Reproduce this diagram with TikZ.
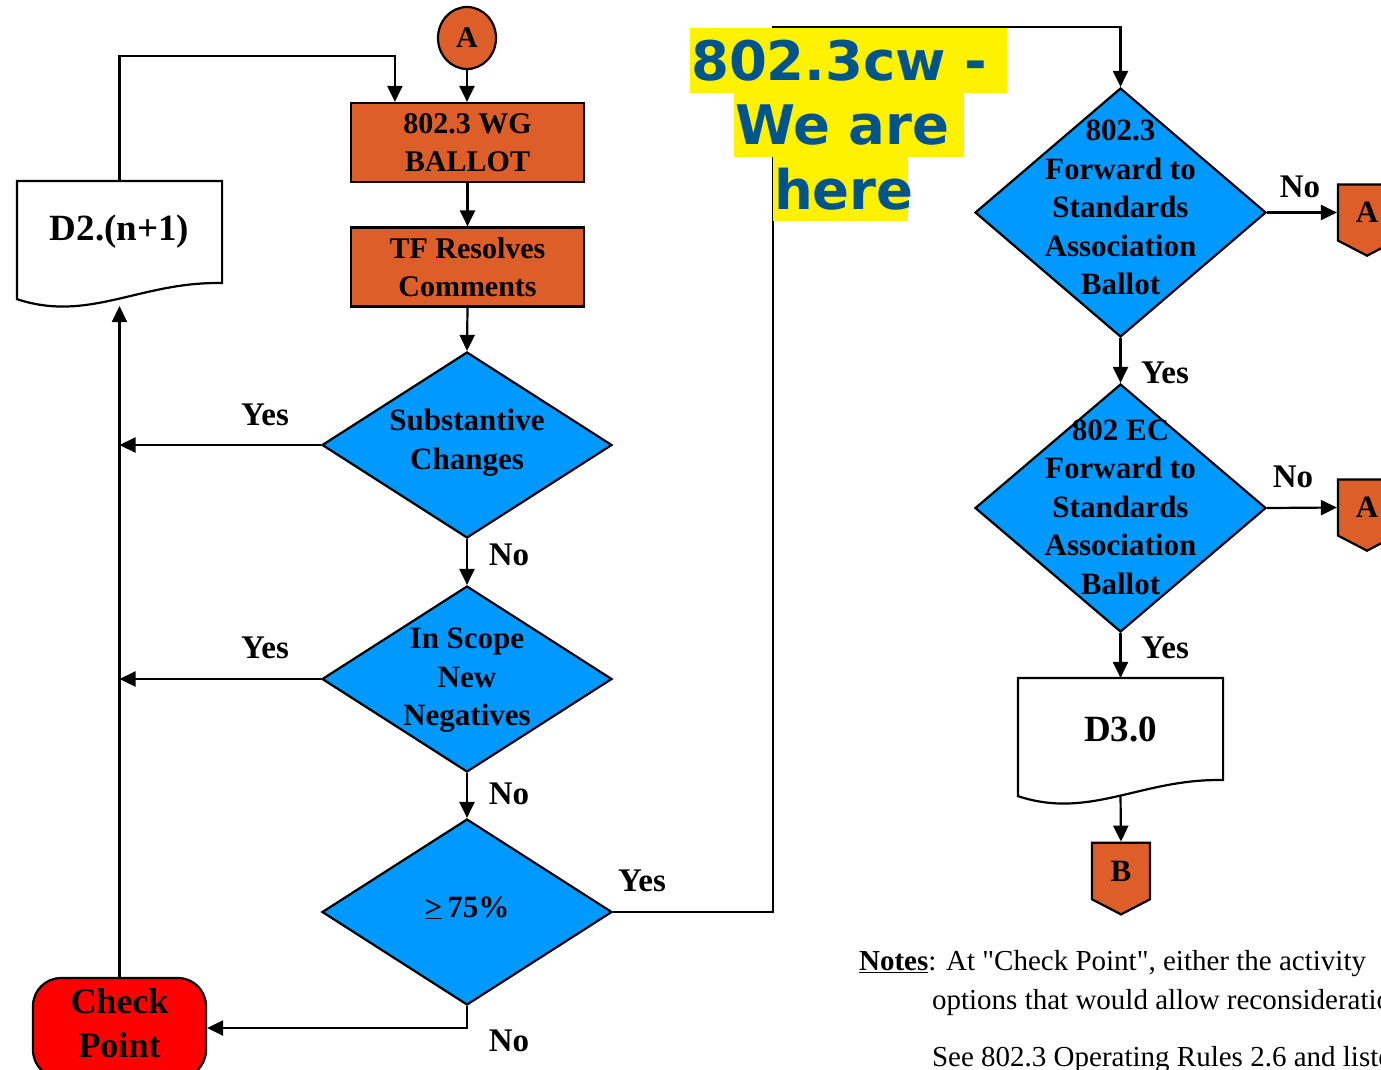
\documentclass[tikz,border=0pt]{standalone}
\usepackage{fontspec}
\setmainfont{Liberation Serif}
\newfontfamily\herefont{DejaVu Sans}
\usetikzlibrary{arrows.meta,shapes.geometric,shapes.symbols,calc}

\definecolor{boxorange}{RGB}{221,94,40}
\definecolor{dblue}{RGB}{0,153,255}
\definecolor{hereblue}{RGB}{0,84,140}

% text that does not change the size of its node
\newcommand{\dtext}[1]{\smash{\makebox[0pt]{\raisebox{-.12em}{\begin{tabular}{@{}c@{}}#1\end{tabular}}}}}

\tikzset{every picture/.style={line width=2.2pt}}
\tikzset{
	arr/.style={-{Triangle[length=16pt,width=15pt]}},
	procbox/.style={draw, fill=boxorange, minimum width=233, minimum height=79, inner sep=0pt, align=center, font=\bfseries\fontsize{30}{38}\selectfont},
	decision/.style={diamond, draw, fill=dblue, minimum width=290, minimum height=186, inner sep=0pt, font=\bfseries\fontsize{31}{38.5}\selectfont},
	docnode/.style={minimum width=203, minimum height=100, inner sep=0pt, font=\bfseries\fontsize{37}{40}\selectfont},
	startcirc/.style={ellipse, draw, fill=boxorange, minimum width=58, minimum height=62, inner sep=0pt, font=\bfseries\fontsize{30}{34}\selectfont},
	offpage/.style={signal, signal to=south, signal from=nowhere, signal pointer angle=125, draw, fill=boxorange, minimum width=58, minimum height=62, inner sep=0pt, font=\bfseries\fontsize{31}{34}\selectfont},
	checkpt/.style={draw, fill=red, rounded corners=28pt, minimum width=173, minimum height=100, inner sep=0pt, font=\bfseries\fontsize{36}{44}\selectfont},
	yesno/.style={font=\bfseries\fontsize{33}{36}\selectfont},
	herebox/.style={anchor=west, fill=yellow, text=hereblue, inner xsep=1pt, inner ysep=0pt, align=left, minimum height=64.5, font=\herefont\bfseries\fontsize{54.5}{64}\selectfont},
	notetext/.style={anchor=base west, inner sep=0pt, font=\fontsize{29}{38}\selectfont}
}

\begin{document}
\begin{tikzpicture}[x=1pt,y=1pt,yscale=-1,xscale=1]
	\useasboundingbox (0,0) rectangle (1381,1069);
	\clip (0,0) rectangle (1381,1069);

	%Shape: Ellipse
	\node[startcirc] (a0) at (467,38) {A};
	%Shape: Rectangle
	\node[procbox] (wg) at (467.5,142.5) {802.3 WG\\BALLOT};
	%Shape: Rectangle
	\node[procbox] (tf) at (467.5,267) {TF Resolves\\Comments};
	%Shape: Diamond
	\node[decision] (sc) at (467,445) {\dtext{Substantive\\Changes}};
	%Shape: Diamond
	\node[decision] (isn) at (467,679) {\raisebox{-6pt}{\dtext{In Scope\\New\\Negatives}}};
	%Shape: Diamond
	\node[decision] (pct) at (467,912) {\dtext{\underline{>}\,75\%}};
	%Shape: Diamond
	\node[decision, minimum width=291, minimum height=249] (fwd) at (1120.5,212.5) {\dtext{802.3\\Forward to\\Standards\\Association\\Ballot}};
	%Shape: Diamond
	\node[decision, minimum width=291, minimum height=248] (ec) at (1120.5,508) {\raisebox{-8pt}{\dtext{802 EC\\Forward to\\Standards\\Association\\Ballot}}};
	%Shape: Terminal
	\node[checkpt] (cp) at (119.5,1028) {\raisebox{-1pt}{\dtext{Check\\Point}}};
	%Shape: Off page
	\node[offpage] (a1) at (1367,212.5) {A};
	\node[offpage] (a2) at (1367,507.5) {A};
	\node[offpage] (b) at (1121,871) {B};

	%Shape: Document
	\node[docnode] (d2) at (119.5,232) {D2.(n+1)};
	\node[docnode] (d3) at (1120.5,729) {D3.0};
	\foreach \n in {d2,d3}
		\draw (\n.north west) -- (\n.north east) -- (\n.south east) .. controls +(-81,-2) and +(72,24) .. ([yshift=16pt]\n.south west) -- cycle ;
	\coordinate (d2w) at (119.5,306);
	\coordinate (d3w) at (1120.5,795);

	%Straight Lines
	\draw[arr] (a0.south) -- (a0.south |- wg.north);
	\draw[arr] (wg.south) -- (tf.north);
	\draw[arr] (tf.south) -- (sc.north);
	\draw[arr] (sc.south) -- (isn.north);
	\draw[arr] (isn.south) -- (pct.north);
	\draw[arr] (sc.west) -- (sc.west -| cp.north);
	\draw[arr] (isn.west) -- (isn.west -| cp.north);
	\draw[arr] (pct.south) |- (cp.east);
	\draw[arr] (cp.north) -- (d2w);
	\draw[arr] (d2.north) -- ++(0,-125) -| ($(wg.north west)+(45,0)$);
	\draw[arr] (pct.east) -- ++(160,0) -- ++(0,-885) -| (fwd.north);
	\draw[arr] (fwd.south) -- (ec.north);
	\draw[arr] (fwd.east) -- (a1.west);
	\draw[arr] (ec.east) -- (a2.west);
	\draw[arr] (ec.south) -- (d3.north);
	\draw[arr] (d3w) -- (b.north);

	% Text Node
	\node[yesno] (y1) at (265,415) {Yes};
	\node[yesno] (y2) at (265,648) {Yes};
	\node[yesno] (y3) at (642,881) {Yes};
	\node[yesno] (y4) at (1165,373) {Yes};
	\node[yesno] (y5) at (1165,648) {Yes};
	\node[yesno] (n1) at (509,555) {No};
	\node[yesno] (n2) at (509,794) {No};
	\node[yesno] (n3) at (509,1041) {No};
	\node[yesno] (n4) at (1300,187) {No};
	\node[yesno] (n5) at (1293,477) {No};

	% Text Node
	\node[herebox, text width=315] (hl1) at (689,60.5) {802.3cw -};
	\node[herebox, text width=228] (hl2) at (733,125) {We are};
	\node[herebox, text width=133] (hl3) at (772,189) {here};

	% Text Node
	\node[notetext] (nt1) at (858,970) {\textbf{\underline{Notes}}: At \textquotedbl Check Point\textquotedbl, either the activity};
	\node[notetext] (nt2) at (931,1009) {options that would allow reconsideration};
	\node[notetext] (nt3) at (931,1066) {See 802.3 Operating Rules 2.6 and listed};

\end{tikzpicture}
\end{document}
